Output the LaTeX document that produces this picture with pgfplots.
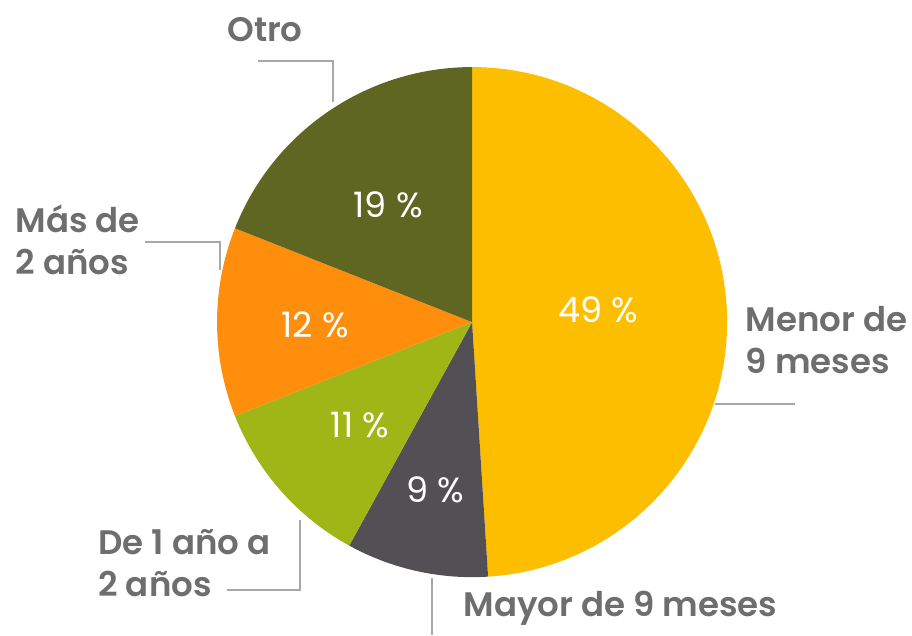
\documentclass[border=0pt]{standalone}
\usepackage{pgfplots}
\usepackage{pgfplotstable}
\usepackage{fontspec}
\pgfplotsset{compat=1.18}
\setmainfont{Poppins}[BoldFont={* SemiBold}]

\definecolor{cYellow}{RGB}{254,190,0}
\definecolor{cDark}{RGB}{82,80,84}
\definecolor{cLime}{RGB}{158,182,22}
\definecolor{cOrange}{RGB}{255,142,12}
\definecolor{cOlive}{RGB}{94,102,34}
\definecolor{txtGray}{RGB}{110,110,110}
\definecolor{lineGray}{RGB}{168,168,168}

% pie shares, clockwise from 12 o'clock
\pgfplotstableread{
value
49
9
11
12
19
}\piedata

\pgfplotstablegetelem{0}{value}\of\piedata \let\vA\pgfplotsretval
\pgfplotstablegetelem{1}{value}\of\piedata \let\vB\pgfplotsretval
\pgfplotstablegetelem{2}{value}\of\piedata \let\vC\pgfplotsretval
\pgfplotstablegetelem{3}{value}\of\piedata \let\vD\pgfplotsretval
\pgfplotstablegetelem{4}{value}\of\piedata \let\vE\pgfplotsretval
\pgfmathsetmacro\aA{90}
\pgfmathsetmacro\aB{\aA-3.6*\vA}
\pgfmathsetmacro\aC{\aB-3.6*\vB}
\pgfmathsetmacro\aD{\aC-3.6*\vC}
\pgfmathsetmacro\aE{\aD-3.6*\vD}
\pgfmathsetmacro\aF{\aE-3.6*\vE}
\def\R{127.5pt}

\newcommand{\slice}[3]{%
  \fill[#3] (axis cs:0,0) -- (axis cs:{cos(#1)},{sin(#1)})
    arc[start angle=#1, end angle=#2, radius=\R] -- cycle;}

\begin{document}
\begin{tikzpicture}
\begin{axis}[
    x=127.5pt, y=127.5pt,
    xmin=-1.851, xmax=1.725,
    ymin=-1.227, ymax=1.263,
    hide axis,
    clip=false,
]
% leader lines
\addplot[lineGray, line width=1pt] coordinates {(-0.839,1.024) (-0.545,1.024) (-0.545,0.863)};
\addplot[lineGray, line width=1pt] coordinates {(-1.282,0.314) (-0.988,0.314) (-0.988,0.204)};
\addplot[lineGray, line width=1pt] coordinates {(-0.961,-1.051) (-0.675,-1.051) (-0.675,-0.776)};
\addplot[lineGray, line width=1pt] coordinates {(-0.157,-1.004) (-0.157,-1.227)};
\addplot[lineGray, line width=1pt] coordinates {(0.953,-0.322) (1.267,-0.322)};

\slice{\aA}{\aB}{cYellow}
\slice{\aB}{\aC}{cDark}
\slice{\aC}{\aD}{cLime}
\slice{\aD}{\aE}{cOrange}
\slice{\aE}{\aF}{cOlive}

% shares
\begin{scope}[every node/.style={text=white, font=\fontsize{17.5}{20}\selectfont}]
\node at (axis cs:0.494,0.047) {49 \%};
\node at (axis cs:-0.329,0.459) {19 \%};
\node at (axis cs:-0.616,-0.012) {12 \%};
\node at (axis cs:-0.439,-0.404) {11 \%};
\node at (axis cs:-0.145,-0.659) {9 \%};
\end{scope}

% category names
\begin{scope}[every node/.style={text=txtGray, align=left, inner sep=0pt, font=\bfseries\fontsize{17}{21}\selectfont}]
\node at (axis cs:-0.812,1.145) {Otro};
\node[anchor=west] at (axis cs:-1.792,0.322) {Más de\\2 años};
\node[anchor=west] at (axis cs:1.071,-0.071) {Menor de\\9 meses};
\node[anchor=west] at (axis cs:-1.467,-0.945) {De 1 año a\\2 años};
\node[anchor=west] at (axis cs:-0.035,-1.122) {Mayor de 9 meses};
\end{scope}
\end{axis}
\pgfresetboundingbox
\useasboundingbox (current axis.south west) rectangle (current axis.north east);
\end{tikzpicture}
\end{document}
